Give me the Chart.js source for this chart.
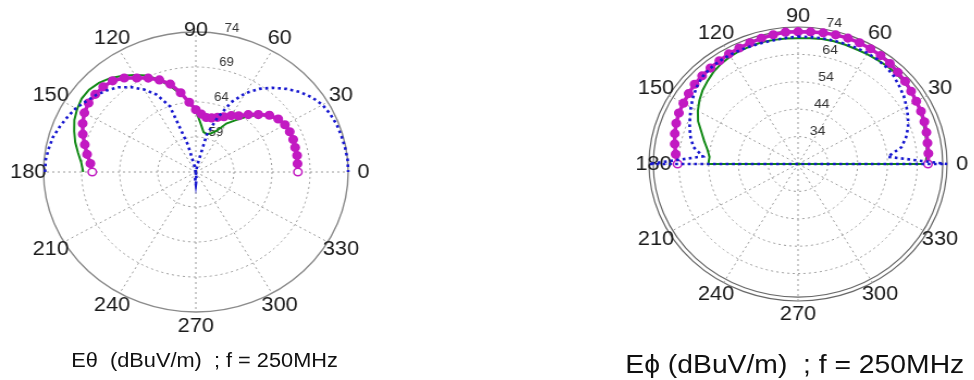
<!DOCTYPE html>
<html><head><meta charset="utf-8">
<script src="https://cdn.jsdelivr.net/npm/chart.js@4.4.1/dist/chart.umd.min.js"></script>
<style>
html,body{margin:0;padding:0;background:#fff;width:974px;height:380px;overflow:hidden;}
.wrap{position:absolute;top:0;height:380px;transform:scaleX(1.088);transform-origin:0 0;}
.wrap canvas{position:absolute;left:0;top:0;display:block;}
.cap{position:absolute;white-space:pre;font-family:"Liberation Sans",Arial,sans-serif;color:#111;transform:translateX(-50%);}
</style></head><body>
<div class="wrap" style="left:0;width:360px"><canvas id="cTheta" width="360" height="380"></canvas>
<div class="cap" style="left:188px;top:348px;font-size:20px;line-height:24px">Eθ  (dBuV/m)  ; f = 250MHz</div></div>
<div class="wrap" style="left:600px;width:340px"><canvas id="cPhi" width="340" height="380"></canvas>
<div class="cap" style="left:179px;top:349px;font-size:26px;line-height:31px">Eϕ (dBuV/m)  ; f = 250MHz</div></div>
<script>
// ---- data (angles in degrees, values in dBuV/m) ----
const angles = [0,5,10,15,20,25,30,35,40,45,50,55,60,65,70,75,80,85,90,95,100,105,110,115,120,125,130,135,140,145,150,155,160,165,170,175,180,
  185,190,195,200,205,210,215,220,225,230,235,240,245,250,255,260,265,270,275,280,285,290,295,300,305,310,315,320,325,330,335,340,345,350,355];
const angleTicks = [0,30,60,90,120,150,180,210,240,270,300,330];
const thetaTicks = [59,64,69,74];
const phiTicks = [34,44,54,64,74];

// E-theta (left), 0..180 deg
const thetaMagenta = [67.4,67.4,67.5,67.5,67.6,67.6,67.5,67.2,66.6,65.6,64.7,63.8,63.3,62.7,62.3,62.0,61.9,62.3,62.9,64.0,65.5,67.0,68.0,68.8,69.5,70.4,71.0,71.2,71.25,71.2,70.9,70.4,69.8,69.1,68.5,67.9,67.6];
const thetaGreen   = [67.4,67.4,67.5,67.5,67.6,67.6,67.4,67.1,66.5,65.5,64.3,63.0,62.0,60.5,59.9,59.6,59.8,61.0,62.8,64.0,65.3,66.6,68.0,69.2,70.0,70.8,71.5,72.0,72.3,72.3,72.0,71.6,71.0,70.4,69.7,69.1,68.8];
const thetaBlue    = [74.0,74.0,73.9,73.8,73.7,73.5,73.2,72.6,71.8,70.8,69.7,68.5,67.0,65.0,62.2,59.5,54.8,53.0,52.3,53.0,54.6,58.0,64.0,66.2,67.6,68.8,69.8,70.5,71.1,71.6,72.2,72.6,73.0,73.4,73.6,73.8,73.8];

// E-phi (right)
const phiMagenta = [67.6,67.9,68.1,68.6,69.1,69.5,69.8,70.3,70.9,71.3,71.9,72.3,72.6,72.8,72.9,72.8,72.6,72.4,72.3,72.3,71.9,71.5,71.1,70.7,70.4,70.0,69.7,69.5,69.3,68.8,68.4,68.1,67.5,66.8,66.0,65.2,64.4];
const phiGreen = [66.8,67.4,67.8,68.2,68.6,69.4,70.0,70.3,70.5,70.6,70.6,70.4,70.3,70.2,70.3,70.4,70.3,70.1,69.9,70.0,70.0,70.1,69.9,69.7,69.35,68.8,68.0,66.9,65.8,64.4,62.8,61.0,58.5,56.6,54.9,53.8,54.1,
  24,24,24,24,24,24,24,24,24,24,24,24,24,24,24,24,24,24,24,24,24,24,24,24,24,24,24,24,24,24,24,24,24,24,24];
const phiBlue = [74.0,54.2,59.2,61.5,63.3,64.7,66.0,67.3,68.3,69.4,70.1,70.5,70.7,70.7,70.6,70.6,70.6,70.5,70.5,70.2,69.9,69.8,69.8,69.9,69.9,69.9,69.7,69.2,68.2,66.9,65.5,64.0,62.7,61.3,59.6,56.0,74.0,
  24,24,24,24,24,24,24,24,24,24,24,24,24,24,24,24,24,24,24,24,24,24,24,24,24,24,24,24,24,24,24,24,24,24,24];

// ---- radar ordering: index 0 at top (90 deg), going clockwise ----
const topIdx = angles.indexOf(90);
const ringLabels = angles.map((_, i) => angles[(topIdx - i + angles.length * 2) % angles.length]);
function ringOrder(series) {
  return ringLabels.map(a => { const v = series[angles.indexOf(a)]; return v === undefined ? null : v; });
}

const MAG = '#c21ac2', GREEN = '#138a17', BLUE = '#1717cf', GRID = '#9a9a9a';
const FONT = '"Liberation Sans", Arial, sans-serif';

const polarText = {
  id: 'polarText',
  beforeDatasetsDraw(chart, args, o) {
    const s = chart.scales.r, ctx = chart.ctx;
    const step = 360 / ringLabels.length;
    ctx.save();
    ctx.fillStyle = '#1a1a1a';
    ctx.font = '20px ' + FONT;
    ctx.textAlign = 'center';
    ctx.textBaseline = 'middle';
    for (const a of angleTicks) {
      const k = o.radiusFactor[a] || 1.1;
      const p = s.getPointPosition(ringLabels.indexOf(a), s.drawingArea * k);
      ctx.fillText(String(a), p.x, p.y);
    }
    ctx.font = o.tickFont + 'px ' + FONT;
    ctx.fillStyle = '#333';
    ctx.textAlign = 'left';
    for (const v of o.ticks) {
      const p = s.getPointPosition((90 - 82) / step, s.getDistanceFromCenterForValue(v));
      ctx.fillText(String(v), p.x + 7, p.y - 5);
    }
    ctx.restore();
  }
};

function makeChart(id, cfg) {
  return new Chart(document.getElementById(id), {
    type: 'radar',
    data: {
      labels: ringLabels,
      datasets: [
        { data: ringOrder(cfg.blue), borderColor: BLUE, borderWidth: 2.6, borderDash: [2.6, 3.2], pointRadius: 0, fill: false, spanGaps: false, tension: 0 },
        { data: ringOrder(cfg.magenta), borderColor: MAG, borderWidth: 3.5, pointRadius: 3.8, pointBorderWidth: 1.5, pointBorderColor: MAG,
          pointBackgroundColor: c => { const a = ringLabels[c.dataIndex]; return (a === 0 || a === 180) ? '#ffffff' : MAG; },
          fill: false, spanGaps: false, tension: 0 },
        { data: ringOrder(cfg.green), borderColor: GREEN, borderWidth: 2, pointRadius: 0, fill: false, spanGaps: false, tension: 0 }
      ]
    },
    options: {
      responsive: false,
      animation: false,
      events: [],
      layout: { padding: cfg.padding },
      plugins: { legend: { display: false }, tooltip: { enabled: false }, title: { display: false },
        polarText: { ticks: cfg.ticks, tickFont: cfg.tickFont, radiusFactor: cfg.radiusFactor } },
      scales: {
        r: {
          min: cfg.min, max: cfg.max, startAngle: 0,
          ticks: { display: false, stepSize: cfg.step },
          pointLabels: { display: false },
          grid: {
            circular: true,
            color: c => (c.tick && c.tick.value >= cfg.outerFrom) ? cfg.outerColor : GRID,
            lineWidth: c => (c.tick && c.tick.value >= cfg.outerFrom) ? cfg.outerWidth : 1
          },
          border: { dash: c => (c.tick && c.tick.value >= cfg.outerFrom) ? [] : [2, 3], dashOffset: 0 },
          angleLines: { display: true, color: GRID, lineWidth: c => (c.index % 6 === 0 ? 1 : 0), borderDash: [2, 3] },
          afterBuildTicks: cfg.extraRing ? (s => { s.ticks.push({ value: cfg.extraRing }); }) : undefined
        }
      }
    },
    plugins: [polarText]
  });
}

makeChart('cTheta', {
  blue: thetaBlue, magenta: thetaMagenta, green: thetaGreen,
  padding: { left: 40, top: 32, right: 39, bottom: 67 },
  min: 54, max: 74, step: 5, ticks: thetaTicks, tickFont: 12,
  outerFrom: 74, outerColor: '#8a8a8a', outerWidth: 1.4,
  radiusFactor: { 90: 1.01 }
});
makeChart('cPhi', {
  blue: phiBlue, magenta: phiMagenta, green: phiGreen,
  padding: { left: 45, top: 27, right: 20, bottom: 78 },
  min: 24, max: 74, step: 10, ticks: phiTicks, tickFont: 13,
  outerFrom: 72, outerColor: '#666', outerWidth: 1.2, extraRing: 72.55,
  radiusFactor: { 180: 0.97, 90: 1.075 }
});
</script></body></html>
